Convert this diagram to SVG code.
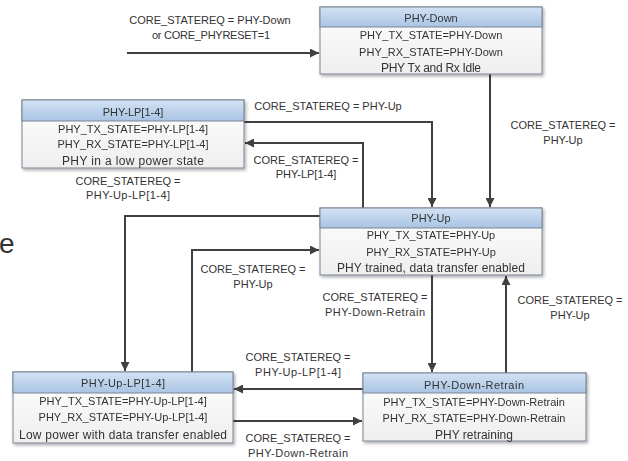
<svg xmlns="http://www.w3.org/2000/svg" width="628" height="461" viewBox="0 0 628 461">
  <defs>
    <linearGradient id="hdr" x1="0" y1="0" x2="0" y2="1">
      <stop offset="0" stop-color="#d3e2f3"/>
      <stop offset="1" stop-color="#a8c4e4"/>
    </linearGradient>
    <linearGradient id="body" x1="0" y1="0" x2="0" y2="1">
      <stop offset="0" stop-color="#ffffff"/>
      <stop offset="1" stop-color="#eeeeee"/>
    </linearGradient>
    <filter id="shadow" x="-5%" y="-10%" width="115%" height="130%">
      <feDropShadow dx="1.5" dy="2" stdDeviation="1.5" flood-color="#000" flood-opacity="0.3"/>
    </filter>
    <marker id="arrow" viewBox="0 0 10 10" refX="10" refY="5" markerWidth="9" markerHeight="9" markerUnits="userSpaceOnUse" orient="auto">
      <path d="M0,0 L10,5 L0,10 z" fill="#404040"/>
    </marker>
  </defs>
  <style>
    text { font-family: "Liberation Sans", Arial, sans-serif; font-size: 11px; fill: #333333; text-anchor: middle; }
    .desc { font-size: 12px; }
    .frame { fill: url(#body); stroke: #7a8594; stroke-width: 1; }
    .head { fill: url(#hdr); stroke: #7a8594; stroke-width: 1; }
    .edge { fill: none; stroke: #404040; stroke-width: 2; }
    .arr { marker-end: url(#arrow); }
    .big { font-size: 28px; text-anchor: start; fill: #333; }
  </style>

  <rect width="628" height="461" fill="#ffffff"/>

  <!-- clipped slide text at the left edge -->
  <text class="big" x="-1" y="253">e</text>

  <!-- connectors -->
  <g id="connectors">
    <!-- reset / entry -->
    <path class="edge arr" d="M127,53 H319"/>
    <text x="210" y="24">CORE_STATEREQ = PHY-Down</text>
    <text x="211" y="39" textLength="118">or CORE_PHYRESET=1</text>

    <!-- PHY-Down to PHY-Up -->
    <path class="edge arr" d="M490,74 V207"/>
    <text x="563" y="129">CORE_STATEREQ =</text>
    <text x="563" y="144">PHY-Up</text>

    <!-- PHY-LP to PHY-Up -->
    <path class="edge arr" d="M244,122 H432 V207"/>
    <text x="328" y="110">CORE_STATEREQ = PHY-Up</text>

    <!-- PHY-Up to PHY-LP -->
    <path class="edge arr" d="M363,208 V143 H245"/>
    <text x="306" y="164">CORE_STATEREQ =</text>
    <text x="306" y="178">PHY-LP[1-4]</text>

    <!-- PHY-Up to PHY-Up-LP -->
    <path class="edge arr" d="M320,216 H125 V371"/>
    <text x="128" y="185">CORE_STATEREQ =</text>
    <text x="128" y="199" textLength="84">PHY-Up-LP[1-4]</text>

    <!-- PHY-Up-LP to PHY-Up -->
    <path class="edge arr" d="M192,372 V250 H319"/>
    <text x="253" y="273">CORE_STATEREQ =</text>
    <text x="253" y="288">PHY-Up</text>

    <!-- PHY-Up to PHY-Down-Retrain -->
    <path class="edge arr" d="M432,275 V372"/>
    <text x="375" y="301">CORE_STATEREQ =</text>
    <text x="375" y="316" textLength="100">PHY-Down-Retrain</text>

    <!-- PHY-Down-Retrain to PHY-Up -->
    <path class="edge arr" d="M506,373 V276"/>
    <text x="570" y="304">CORE_STATEREQ =</text>
    <text x="570" y="319">PHY-Up</text>

    <!-- PHY-Down-Retrain to PHY-Up-LP -->
    <path class="edge arr" d="M363,389 H234"/>
    <text x="298" y="361">CORE_STATEREQ =</text>
    <text x="298" y="376" textLength="86">PHY-Up-LP[1-4]</text>

    <!-- PHY-Up-LP to PHY-Down-Retrain -->
    <path class="edge arr" d="M233,421 H362"/>
    <text x="298" y="442">CORE_STATEREQ =</text>
    <text x="298" y="457" textLength="100">PHY-Down-Retrain</text>
  </g>

  <!-- states -->
  <g id="phy-down" filter="url(#shadow)">
    <rect class="frame" x="320" y="7" width="222" height="67"/>
    <rect class="head" x="320" y="7" width="222" height="20"/>
    <text x="431" y="22">PHY-Down</text>
    <text x="431" y="39">PHY_TX_STATE=PHY-Down</text>
    <text x="431" y="56">PHY_RX_STATE=PHY-Down</text>
    <text class="desc" x="431" y="72" textLength="100">PHY Tx and Rx Idle</text>
  </g>

  <g id="phy-lp" filter="url(#shadow)">
    <rect class="frame" x="22" y="100" width="222" height="68"/>
    <rect class="head" x="22" y="100" width="222" height="21"/>
    <text x="133" y="116">PHY-LP[1-4]</text>
    <text x="133" y="133">PHY_TX_STATE=PHY-LP[1-4]</text>
    <text x="133" y="148">PHY_RX_STATE=PHY-LP[1-4]</text>
    <text class="desc" x="133" y="165" textLength="142">PHY in a low power state</text>
  </g>

  <g id="phy-up" filter="url(#shadow)">
    <rect class="frame" x="320" y="208" width="222" height="67"/>
    <rect class="head" x="320" y="208" width="222" height="20"/>
    <text x="431" y="222">PHY-Up</text>
    <text x="431" y="239">PHY_TX_STATE=PHY-Up</text>
    <text x="431" y="256">PHY_RX_STATE=PHY-Up</text>
    <text class="desc" x="431" y="272" textLength="188">PHY trained, data transfer enabled</text>
  </g>

  <g id="phy-up-lp" filter="url(#shadow)">
    <rect class="frame" x="13" y="372" width="220" height="71"/>
    <rect class="head" x="13" y="372" width="220" height="21"/>
    <text x="123" y="387" textLength="84">PHY-Up-LP[1-4]</text>
    <text x="123" y="405">PHY_TX_STATE=PHY-Up-LP[1-4]</text>
    <text x="123" y="421">PHY_RX_STATE=PHY-Up-LP[1-4]</text>
    <text class="desc" x="123" y="439" textLength="208">Low power with data transfer enabled</text>
  </g>

  <g id="phy-down-retrain" filter="url(#shadow)">
    <rect class="frame" x="363" y="373" width="223" height="68"/>
    <rect class="head" x="363" y="373" width="223" height="20"/>
    <text x="474" y="389" textLength="100">PHY-Down-Retrain</text>
    <text x="474" y="406">PHY_TX_STATE=PHY-Down-Retrain</text>
    <text x="474" y="422">PHY_RX_STATE=PHY-Down-Retrain</text>
    <text class="desc" x="474" y="439" textLength="78">PHY retraining</text>
  </g>
</svg>
